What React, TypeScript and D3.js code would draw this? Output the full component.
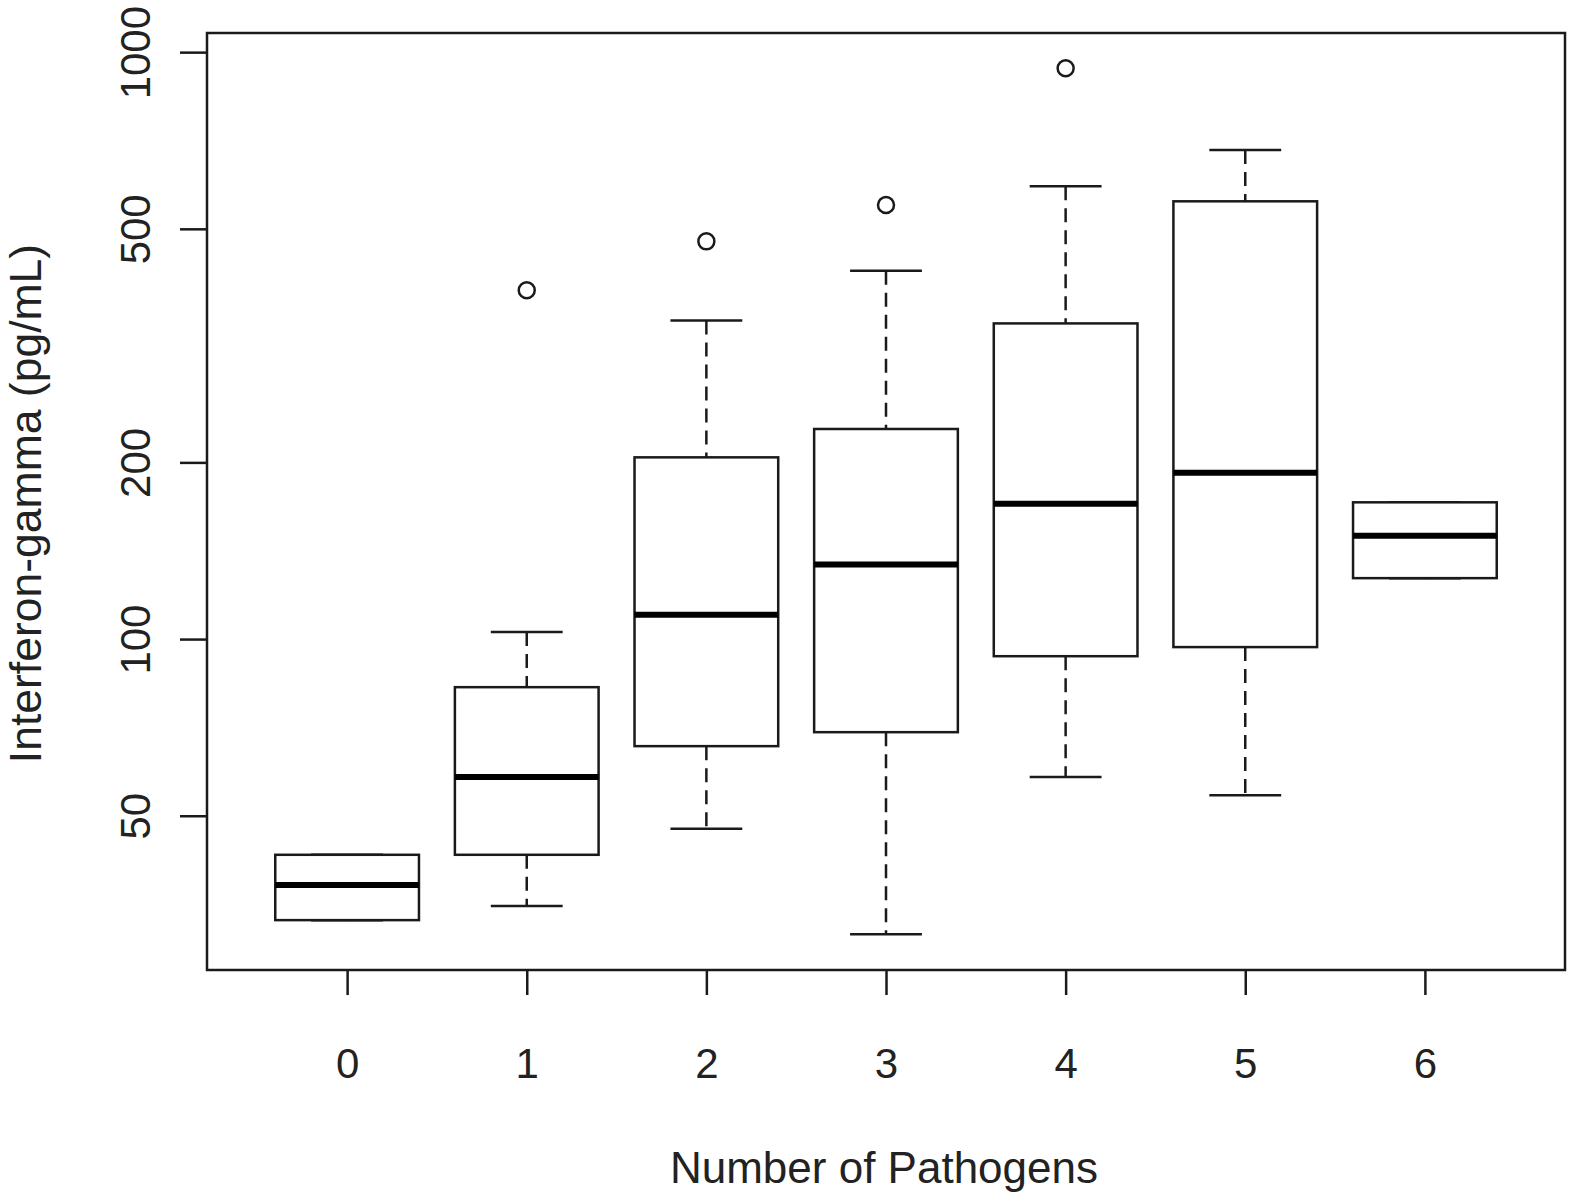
import { useEffect, useRef } from "react";
import * as d3 from "d3";

// values (pg/mL, log axis)
const categories = ["0", "1", "2", "3", "4", "5", "6"];
const lowWhisker = [33.2, 35.1, 47.5, 31.4, 58.2, 54.2, 127];
const q1 = [33.2, 42.9, 65.7, 69.4, 93.5, 96.9, 127];
const median = [38.1, 58.2, 110, 134, 170, 192, 150];
const q3 = [42.9, 82.8, 204, 228, 345, 557, 171];
const highWhisker = [42.9, 102.8, 349, 424, 591, 681, 171];
const outliers = [[], [393], [476], [549], [939], [], []];
const yTicks = [50, 100, 200, 500, 1000];

const W = 1570;
const H = 1192;
const left = 207, right = 1565, top = 33, bottom = 970;
const ink = "#1a1a1a";
const font = "'Liberation Sans', Arial, sans-serif";

export default function App() {
    const ref = useRef<SVGSVGElement | null>(null);

    useEffect(() => {
        const svg = d3.select(ref.current);
        svg.selectAll("*").remove();

        const x = d3.scaleLinear().domain([-0.78, 6.78]).range([left, right]);
        const y = d3.scaleLog().domain([27.3, 1078]).range([bottom, top]);

        const boxW = x(0.4) - x(0);
        const capW = x(0.2) - x(0);

        const g = svg.append("g");

        categories.forEach((c, i) => {
            const cx = x(i);
            const grp = g.append("g");
            // whiskers
            grp.append("line")
                .attr("x1", cx).attr("x2", cx)
                .attr("y1", y(highWhisker[i])).attr("y2", y(q3[i]))
                .attr("stroke", ink).attr("stroke-width", 2.5)
                .attr("stroke-dasharray", "14,8");
            grp.append("line")
                .attr("x1", cx).attr("x2", cx)
                .attr("y1", y(q1[i])).attr("y2", y(lowWhisker[i]))
                .attr("stroke", ink).attr("stroke-width", 2.5)
                .attr("stroke-dasharray", "14,8");
            // caps
            [highWhisker[i], lowWhisker[i]].forEach(v => {
                grp.append("line")
                    .attr("x1", cx - capW).attr("x2", cx + capW)
                    .attr("y1", y(v)).attr("y2", y(v))
                    .attr("stroke", ink).attr("stroke-width", 2.5);
            });
            // box
            grp.append("rect")
                .attr("x", cx - boxW).attr("width", boxW * 2)
                .attr("y", y(q3[i])).attr("height", y(q1[i]) - y(q3[i]))
                .attr("fill", "white")
                .attr("stroke", ink).attr("stroke-width", 2.5);
            // median
            grp.append("line")
                .attr("x1", cx - boxW).attr("x2", cx + boxW)
                .attr("y1", y(median[i])).attr("y2", y(median[i]))
                .attr("stroke", "#000").attr("stroke-width", 6);
            // outliers
            grp.selectAll("circle")
                .data(outliers[i])
                .enter().append("circle")
                .attr("cx", cx)
                .attr("cy", d => y(d))
                .attr("r", 8)
                .attr("fill", "none")
                .attr("stroke", ink).attr("stroke-width", 2.5);
        });

        // frame
        svg.append("rect")
            .attr("x", left).attr("y", top)
            .attr("width", right - left).attr("height", bottom - top)
            .attr("fill", "none")
            .attr("stroke", ink).attr("stroke-width", 2.5);

        // y axis
        const yAxis = d3.axisLeft(y)
            .tickValues(yTicks)
            .tickSize(27)
            .tickFormat(d3.format("d") as any);
        const yg = svg.append("g")
            .attr("transform", `translate(${left},0)`)
            .call(yAxis);
        yg.select(".domain").remove();
        yg.selectAll(".tick line").attr("stroke", ink).attr("stroke-width", 2.5);
        yg.selectAll(".tick text")
            .attr("x", null)
            .attr("dy", null)
            .attr("transform", "translate(-57,0) rotate(-90)")
            .attr("text-anchor", "middle")
            .attr("fill", "#222")
            .style("font-family", font)
            .style("font-size", "42px");

        // x axis
        const xAxis = d3.axisBottom(x)
            .tickValues(categories.map((_, i) => i))
            .tickSize(25)
            .tickFormat((d: any) => categories[d]);
        const xg = svg.append("g")
            .attr("transform", `translate(0,${bottom})`)
            .call(xAxis);
        xg.select(".domain").remove();
        xg.selectAll(".tick line").attr("stroke", ink).attr("stroke-width", 2.5);
        xg.selectAll(".tick text")
            .attr("y", 108)
            .attr("dy", null)
            .attr("fill", "#222")
            .style("font-family", font)
            .style("font-size", "42px");

        // titles
        svg.append("text")
            .attr("x", 884)
            .attr("y", 1183)
            .attr("text-anchor", "middle")
            .attr("fill", "#222")
            .style("font-family", font)
            .style("font-size", "44px")
            .text("Number of Pathogens");

        svg.append("text")
            .attr("transform", `translate(41,${(top + bottom) / 2 + 2}) rotate(-90)`)
            .attr("text-anchor", "middle")
            .attr("fill", "#222")
            .style("font-family", font)
            .style("font-size", "44.5px")
            .text("Interferon-gamma (pg/mL)");
    }, []);

    return (
        <svg
            ref={ref}
            width={W}
            height={H}
            style={{ position: "absolute", left: 0, top: 0, background: "white" }}
        />
    );
}
